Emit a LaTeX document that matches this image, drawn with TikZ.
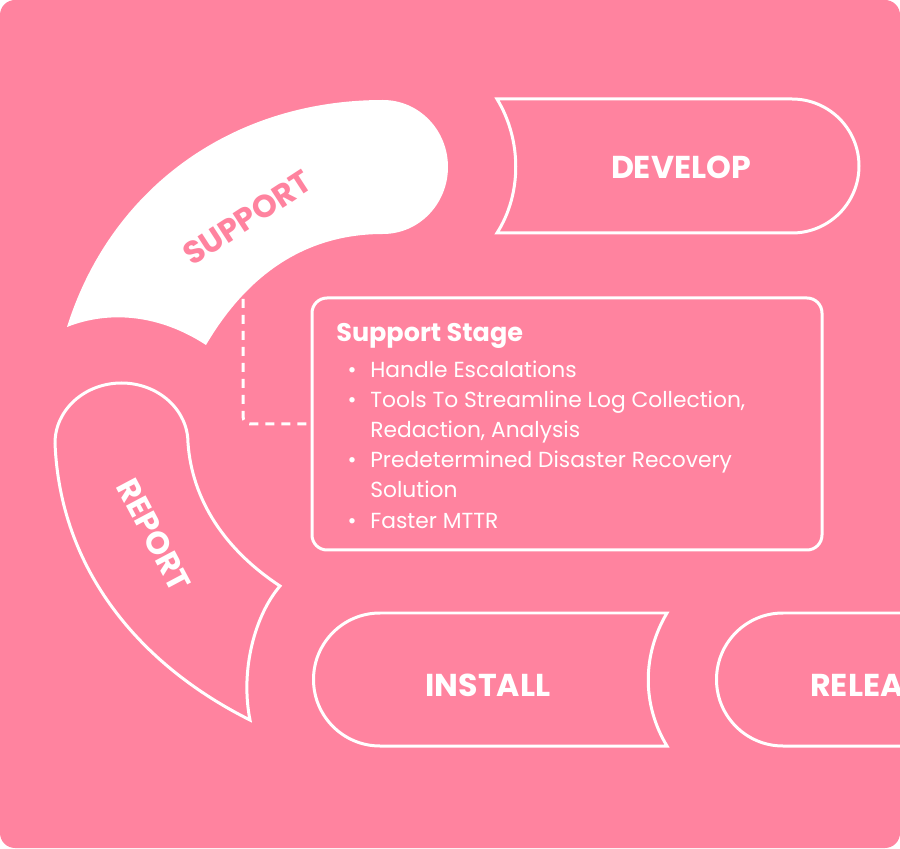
\documentclass[tikz,border=0pt]{standalone}
\usepackage{fontspec}
\setmainfont{Poppins}
\usepackage{xcolor}
\usepackage{tikz}
\definecolor{CYPink}{HTML}{FF839F}
\newcommand{\labelfont}{\fontsize{18}{20}\selectfont\bfseries}
\newcommand{\titlefont}{\fontsize{14.5}{17}\selectfont\bfseries}
\newcommand{\listfont}{\fontsize{12.4}{17}\selectfont}
\tikzset{
  stageline/.style={draw=white,line width=0.06cm},
  stagelabel/.style={text=white,inner sep=0pt,font=\labelfont},
  listline/.style={anchor=base west,text=white,inner sep=0pt,font=\listfont},
  listdot/.style={anchor=base,text=white,inner sep=0pt,font=\listfont}
}

\begin{document}
\begin{tikzpicture}[x=1cm,y=1cm]
\path[use as bounding box] (0,0) rectangle (18.00,16.96);
\fill[white] (0,0) rectangle (18.00,16.96);
\fill[CYPink,rounded corners=0.30cm] (0,0) rectangle (18.00,16.96);
% support arc
\fill[white] (1.34,10.42) .. controls (2.20,13.16) and (4.60,14.96) .. (7.66,14.96) arc[start angle=90,end angle=-90,x radius=1.30,y radius=1.34] .. controls (6.20,12.28) and (5.00,11.56) .. (4.12,10.06) .. controls (3.20,10.66) and (2.20,10.76) .. (1.34,10.42) -- cycle;
\node[stagelabel,text=CYPink,rotate=33] (support) at (4.94,12.60) {SUPPORT};
% report arc
\draw[stageline] (1.10,8.10) arc[start angle=180,end angle=0,x radius=1.33,y radius=1.20] .. controls (3.84,6.96) and (4.50,5.96) .. (5.60,5.24) .. controls (5.10,4.66) and (4.80,3.56) .. (5.00,2.56) .. controls (2.80,3.66) and (1.20,5.56) .. (1.10,8.10) -- cycle;
\node[stagelabel,rotate=-62] (report) at (3.08,6.26) {REPORT};
% develop
\draw[stageline] (9.94,14.98) .. controls (10.44,14.16) and (10.44,13.08) .. (9.94,12.30) -- (15.84,12.30) arc[start angle=-90,end angle=90,radius=1.34] -- cycle;
\node[stagelabel] (develop) at (13.62,13.62) {DEVELOP};
% install
\draw[stageline] (7.60,4.70) arc[start angle=90,end angle=270,radius=1.33] -- (13.34,2.04) .. controls (12.84,2.86) and (12.84,3.86) .. (13.34,4.70) -- cycle;
\node[stagelabel] (install) at (9.76,3.26) {INSTALL};
% release, cut by the right edge
\begin{scope}
\clip[rounded corners=0.30cm] (0,0) rectangle (18.00,16.96);
\draw[stageline] (18.40,4.70) -- (15.66,4.70) arc[start angle=90,end angle=270,radius=1.33] -- (18.40,2.04);
\node[stagelabel,anchor=west] (release) at (16.20,3.26) {RELEASE};
\end{scope}
% stage box
\node[stageline,rounded corners=0.30cm,minimum width=10.20cm,minimum height=5.04cm,inner sep=0pt] (stage) at (11.34,8.48) {};
\node[anchor=base west,inner sep=0pt,text=white,font=\titlefont] (title) at (6.72,10.12) {Support Stage};
\node[listdot] (dot1) at (7.04,9.40) {\textbullet};
\node[listline] (item1) at (7.40,9.40) {Handle Escalations};
\node[listdot] (dot2) at (7.04,8.80) {\textbullet};
\node[listline] (item2) at (7.40,8.80) {Tools To Streamline Log Collection,};
\node[listline] (item2b) at (7.40,8.20) {Redaction, Analysis};
\node[listdot] (dot3) at (7.04,7.60) {\textbullet};
\node[listline] (item3) at (7.40,7.60) {Predetermined Disaster Recovery};
\node[listline] (item3b) at (7.40,7.00) {Solution};
\node[listdot] (dot4) at (7.04,6.40) {\textbullet};
\node[listline] (item4) at (7.40,6.40) {Faster MTTR};
% dashed link
\coordinate (supfoot) at (4.86,11.30);
\draw[white,line width=0.06cm,dash pattern=on 0.18cm off 0.14cm,rounded corners=0.15cm] (supfoot) |- (stage.west);
\end{tikzpicture}
\end{document}
